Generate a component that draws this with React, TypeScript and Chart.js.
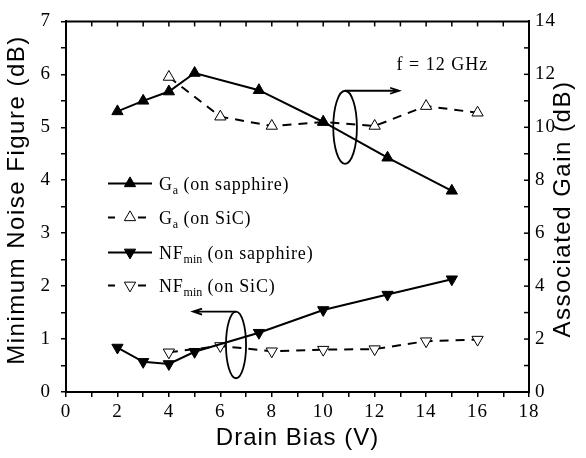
import React, { useEffect, useRef } from 'react';
import { Chart, registerables } from 'chart.js';
Chart.register(...registerables);

const biasSapphire = [2, 3, 4, 5, 7.5, 10, 12.5, 15];
const biasSiC = [4, 6, 8, 10, 12, 14, 16];
const gaSapphire = [10.6, 11.0, 11.35, 12.05, 11.4, 10.2, 8.85, 7.6];
const gaSiC = [11.9, 10.4, 10.05, 10.2, 10.05, 10.8, 10.55];
const nfSapphire = [0.84, 0.57, 0.53, 0.76, 1.12, 1.55, 1.84, 2.13];
const nfSiC = [0.75, 0.87, 0.77, 0.8, 0.81, 0.96, 0.99];

const xTitle = 'Drain Bias (V)';
const yTitle = 'Minimum Noise Figure (dB)';
const y2Title = 'Associated Gain (dB)';
const freqLabel = 'f = 12 GHz';
const legendRows = [
  { main: 'G', sub: 'a', rest: ' (on sapphire)', filled: true, up: true, dashed: false },
  { main: 'G', sub: 'a', rest: ' (on SiC)', filled: false, up: true, dashed: true },
  { main: 'NF', sub: 'min', rest: ' (on sapphire)', filled: true, up: false, dashed: false },
  { main: 'NF', sub: 'min', rest: ' (on SiC)', filled: false, up: false, dashed: true },
];

const SERIF = '"Liberation Serif", "Times New Roman", serif';
const SANS = '"Liberation Sans", Arial, sans-serif';

function tri(ctx: CanvasRenderingContext2D, x: number, y: number, r: number, up: boolean, filled: boolean) {
  ctx.save();
  ctx.beginPath();
  const s = up ? 1 : -1;
  ctx.moveTo(x, y - s * r);
  ctx.lineTo(x + 0.866 * r, y + s * r / 2);
  ctx.lineTo(x - 0.866 * r, y + s * r / 2);
  ctx.closePath();
  ctx.fillStyle = filled ? '#000' : '#fff';
  ctx.fill();
  ctx.lineWidth = 1;
  ctx.strokeStyle = '#000';
  ctx.stroke();
  ctx.restore();
}

const overlay = {
  id: 'overlay',
  beforeDraw(chart: any) {
    const ctx = chart.ctx;
    ctx.save();
    ctx.fillStyle = '#fff';
    ctx.fillRect(0, 0, chart.width, chart.height);
    ctx.restore();
    (ctx as any).letterSpacing = '1px';
  },
  afterDraw(chart: any) {
    const ctx: CanvasRenderingContext2D = chart.ctx;
    const { left, right, top } = chart.chartArea;
    const xs = chart.scales.x, ys = chart.scales.y, y2 = chart.scales.y2;
    ctx.save();
    ctx.strokeStyle = '#000';
    ctx.lineWidth = 2;
    ctx.beginPath();
    ctx.moveTo(left - 1, top);
    ctx.lineTo(right + 1, top);
    ctx.stroke();
    ctx.lineWidth = 1.5;
    for (let v = 1; v < 18; v++) {
      const px = xs.getPixelForValue(v);
      ctx.beginPath();
      ctx.moveTo(px, top);
      ctx.lineTo(px, top + 5);
      ctx.stroke();
    }
    for (let v = 1; v < 14; v++) {
      const py = y2.getPixelForValue(v);
      ctx.beginPath();
      ctx.moveTo(right, py);
      ctx.lineTo(right - 5, py);
      ctx.stroke();
    }

    // legend
    const lx = left + 42;
    const rowY = [top + 162, top + 196, top + 231, top + 264];
    legendRows.forEach((row, i) => {
      const yy = rowY[i];
      ctx.lineWidth = 2;
      ctx.beginPath();
      if (row.dashed) {
        ctx.moveTo(lx, yy); ctx.lineTo(lx + 7, yy);
        ctx.moveTo(lx + 30, yy); ctx.lineTo(lx + 38, yy);
      } else {
        ctx.moveTo(lx, yy); ctx.lineTo(lx + 44, yy);
      }
      ctx.stroke();
      tri(ctx, lx + 22, yy, 6.5, row.up, row.filled);
      const tx = lx + 51;
      ctx.fillStyle = '#000';
      ctx.textBaseline = 'alphabetic';
      ctx.textAlign = 'left';
      (ctx as any).letterSpacing = '0.8px';
      ctx.font = `18px ${SERIF}`;
      ctx.fillText(row.main, tx, yy + 7);
      const w1 = ctx.measureText(row.main).width;
      ctx.font = `12px ${SERIF}`;
      (ctx as any).letterSpacing = '0px';
      ctx.fillText(row.sub, tx + w1, yy + 11);
      const w2 = ctx.measureText(row.sub).width;
      (ctx as any).letterSpacing = '0.8px';
      ctx.font = `18px ${SERIF}`;
      ctx.fillText(row.rest, tx + w1 + w2, yy + 7);
    });

    // frequency label
    ctx.font = `18px ${SERIF}`;
    ctx.textAlign = 'left';
    ctx.textBaseline = 'middle';
    (ctx as any).letterSpacing = '1px';
    ctx.fillText(freqLabel, xs.getPixelForValue(12.85), y2.getPixelForValue(12.35));

    // ellipses + arrows
    ctx.lineWidth = 1.8;
    const e1x = xs.getPixelForValue(10.85), e1y = y2.getPixelForValue(10.0);
    const e1rx = xs.getPixelForValue(10.85 + 0.46) - e1x;
    const e1ry = e1y - y2.getPixelForValue(10.0 + 1.38);
    ctx.beginPath();
    ctx.ellipse(e1x, e1y, e1rx, e1ry, 0, 0, Math.PI * 2);
    ctx.stroke();
    const a1x = xs.getPixelForValue(12.95);
    ctx.beginPath();
    ctx.moveTo(e1x, e1y - e1ry);
    ctx.lineTo(a1x, e1y - e1ry);
    ctx.moveTo(a1x - 9, e1y - e1ry - 3);
    ctx.lineTo(a1x, e1y - e1ry);
    ctx.lineTo(a1x - 9, e1y - e1ry + 3);
    ctx.stroke();

    const e2x = xs.getPixelForValue(6.61), e2y = ys.getPixelForValue(0.89);
    const e2rx = xs.getPixelForValue(6.61 + 0.39) - e2x;
    const e2ry = e2y - ys.getPixelForValue(0.89 + 0.63);
    ctx.beginPath();
    ctx.ellipse(e2x, e2y, e2rx, e2ry, 0, 0, Math.PI * 2);
    ctx.stroke();
    const a2x = xs.getPixelForValue(4.94);
    ctx.beginPath();
    ctx.moveTo(e2x, e2y - e2ry);
    ctx.lineTo(a2x, e2y - e2ry);
    ctx.moveTo(a2x + 9, e2y - e2ry - 3);
    ctx.lineTo(a2x, e2y - e2ry);
    ctx.lineTo(a2x + 9, e2y - e2ry + 3);
    ctx.stroke();

    // axis titles
    ctx.fillStyle = '#000';
    ctx.font = `24px ${SANS}`;
    ctx.textAlign = 'center';
    ctx.textBaseline = 'middle';
    (ctx as any).letterSpacing = '1px';
    ctx.fillText(xTitle, (left + right) / 2, 438);
    (ctx as any).letterSpacing = '1.5px';
    ctx.save();
    ctx.translate(17, 200);
    ctx.rotate(-Math.PI / 2);
    ctx.fillText(yTitle, 0, 0);
    ctx.restore();
    ctx.save();
    ctx.translate(563, 209);
    ctx.rotate(-Math.PI / 2);
    ctx.fillText(y2Title, 0, 0);
    ctx.restore();
    ctx.restore();
    (ctx as any).letterSpacing = '0px';
  },
};

export default function App() {
  const ref = useRef<HTMLCanvasElement>(null);
  useEffect(() => {
    if (!ref.current) return;
    const pts = (xs: number[], ys: number[]) => xs.map((x, i) => ({ x, y: ys[i] }));
    const chart = new Chart(ref.current, {
      type: 'line',
      data: {
        datasets: [
          {
            label: 'Ga (on sapphire)', data: pts(biasSapphire, gaSapphire), yAxisID: 'y2',
            borderColor: '#000', borderWidth: 2, pointStyle: 'triangle', pointRadius: 6.5,
            pointBackgroundColor: '#000', pointBorderColor: '#000', pointBorderWidth: 1,
          },
          {
            label: 'Ga (on SiC)', data: pts(biasSiC, gaSiC), yAxisID: 'y2',
            borderColor: '#000', borderWidth: 2, borderDash: [9, 7], pointStyle: 'triangle', pointRadius: 6.5,
            pointBackgroundColor: '#fff', pointBorderColor: '#000', pointBorderWidth: 1,
          },
          {
            label: 'NFmin (on sapphire)', data: pts(biasSapphire, nfSapphire), yAxisID: 'y',
            borderColor: '#000', borderWidth: 2, pointStyle: 'triangle', pointRotation: 180, pointRadius: 6.5,
            pointBackgroundColor: '#000', pointBorderColor: '#000', pointBorderWidth: 1,
          },
          {
            label: 'NFmin (on SiC)', data: pts(biasSiC, nfSiC), yAxisID: 'y',
            borderColor: '#000', borderWidth: 2, borderDash: [9, 7], pointStyle: 'triangle', pointRotation: 180, pointRadius: 6.5,
            pointBackgroundColor: '#fff', pointBorderColor: '#000', pointBorderWidth: 1,
          },
        ],
      },
      options: {
        responsive: false,
        animation: false,
        layout: { padding: { top: 16, left: 0, right: 0, bottom: 0 } },
        plugins: { legend: { display: false }, tooltip: { enabled: false } },
        scales: {
          x: {
            type: 'linear', min: 0, max: 18, position: 'bottom',
            afterFit: (s: any) => { s.height = 66; },
            border: { display: true, color: '#000', width: 2 },
            grid: { display: true, drawOnChartArea: false, drawTicks: true, tickLength: 5, color: '#000', lineWidth: 1.5 },
            ticks: {
              stepSize: 1, autoSkip: false, maxRotation: 0, color: '#000', padding: 4,
              font: { family: SERIF, size: 19 },
              callback: (v: any) => (Number(v) % 2 === 0 ? String(v) : ''),
            },
          },
          y: {
            type: 'linear', min: 0, max: 7, position: 'left',
            afterFit: (s: any) => { s.width = 66; },
            border: { display: true, color: '#000', width: 2 },
            grid: { display: true, drawOnChartArea: false, drawTicks: true, tickLength: 5, color: '#000', lineWidth: 1.5 },
            ticks: {
              stepSize: 0.5, autoSkip: false, color: '#000', padding: 10,
              font: { family: SERIF, size: 19 },
              callback: (v: any) => (Number.isInteger(Number(v)) ? String(v) : ''),
            },
          },
          y2: {
            type: 'linear', min: 0, max: 14, position: 'right',
            afterFit: (s: any) => { s.width = 57; },
            border: { display: true, color: '#000', width: 2 },
            grid: { display: false, drawOnChartArea: false, drawTicks: false },
            ticks: {
              stepSize: 2, autoSkip: false, color: '#000', padding: 6,
              font: { family: SERIF, size: 19 },
            },
          },
        },
      },
      plugins: [overlay],
    } as any);
    return () => chart.destroy();
  }, []);
  return (
    <div style={{ position: 'fixed', left: 0, top: 0, width: 586, height: 458 }}>
      <canvas ref={ref} width={586} height={458} style={{ width: 586, height: 458 }} />
    </div>
  );
}
